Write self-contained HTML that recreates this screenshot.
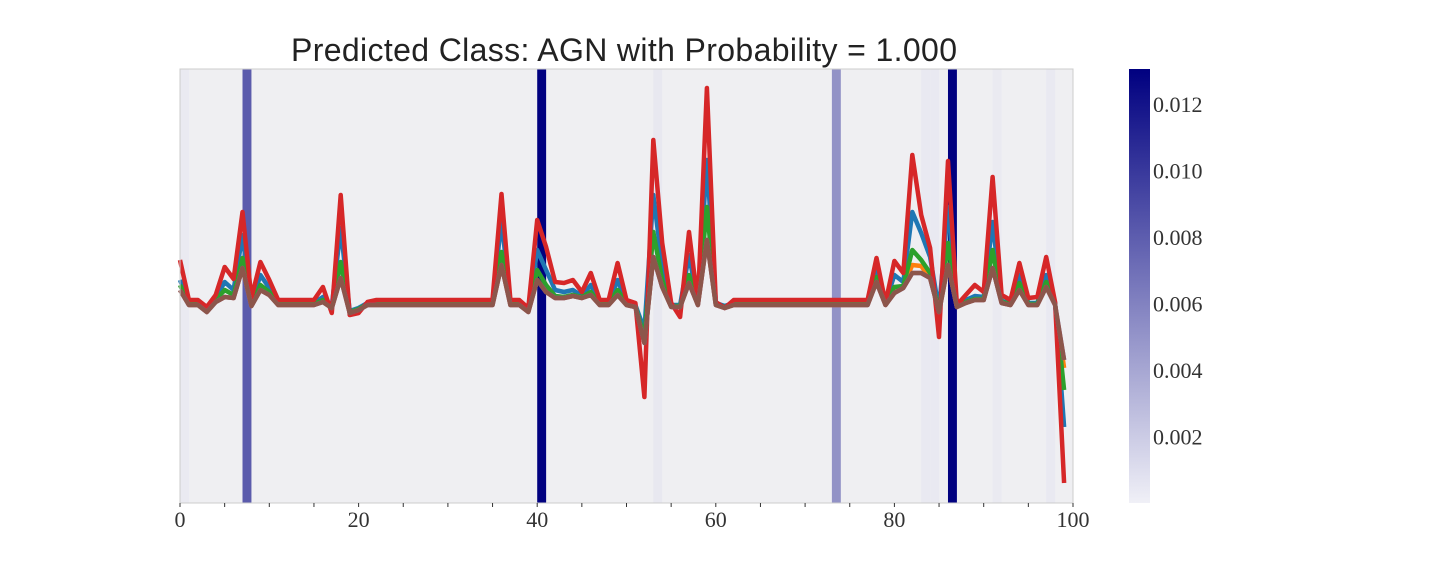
<!DOCTYPE html>
<html><head><meta charset="utf-8"><style>
html,body{margin:0;padding:0;background:#fff;}
svg text{font-family:"Liberation Serif",serif;}
</style></head><body>
<svg id="chart" width="1440" height="576" xmlns="http://www.w3.org/2000/svg">
<defs><linearGradient id="cbg" x1="0" y1="1" x2="0" y2="0">
<stop offset="0" stop-color="#f0f0f7"/><stop offset="1" stop-color="#000080"/></linearGradient></defs>
<text x="624" y="61" text-anchor="middle" textLength="666" style="font-family:'Liberation Sans',sans-serif;font-size:32px" fill="#222">Predicted Class: AGN with Probability = 1.000</text>
<rect x="180" y="69" width="893" height="434" fill="#efeff2"/>
<g id="bands"></g>
<g id="lines"></g>
<rect x="180" y="69" width="893" height="434" fill="none" stroke="#ccc" stroke-width="1"/>
<g id="xaxis"></g>
<rect x="1129" y="69" width="21" height="434" fill="url(#cbg)"/>
<g id="cbar"></g>
</svg>
<script>
const bandIdx=[7,40,73,86,53,83,84,91,97,0];
const bandVal=[0.0080,0.0130,0.0050,0.0130,0.0002,0.00015,0.00015,0.0001,0.00015,0.0001];
const red=[260,300,300,307,295,267,279,212,298,262,280,300,300,300,300,300,287,313,195,315,313,302,300,300,300,300,300,300,300,300,300,300,300,300,300,300,194,300,300,308,220,247,282,283,280,292,273,300,300,263,300,303,397,140,243,303,317,232,303,88,302,308,300,300,300,300,300,300,300,300,300,300,300,300,300,300,300,300,258,303,261,273,155,215,248,337,161,305,295,285,292,177,295,300,263,298,297,257,302,483];
const blue=[280,303,303,310,298,282,290,235,304,275,288,303,303,303,303,303,297,306,228,311,308,303,303,303,303,303,303,303,303,303,303,303,303,303,303,303,220,303,303,310,250,270,290,292,290,296,285,303,303,280,303,305,330,195,265,305,305,255,303,160,303,306,303,303,303,303,303,303,303,303,303,303,303,303,303,303,303,303,270,303,275,282,212,233,257,310,207,305,300,296,297,222,301,303,275,303,303,275,303,427];
const green=[285,304,304,311,300,290,295,258,305,285,292,304,304,304,304,304,300,307,262,312,309,304,304,304,304,304,304,304,304,304,304,304,304,304,304,304,252,304,304,311,270,285,296,297,295,297,292,304,304,290,304,306,338,232,280,306,306,275,304,207,304,307,304,304,304,304,304,304,304,304,304,304,304,304,304,304,304,304,277,304,287,286,250,260,273,311,243,306,302,299,299,250,302,304,283,304,304,282,304,390];
const orange=[290,305,305,312,302,297,298,268,306,290,295,305,305,305,305,305,302,308,278,313,310,305,305,305,305,305,305,305,305,305,305,305,305,305,305,305,265,305,305,312,280,292,298,298,296,298,295,305,305,295,305,307,343,257,287,307,307,283,305,240,305,308,305,305,305,305,305,305,305,305,305,305,305,305,305,305,305,305,282,305,293,286,265,266,278,312,265,307,303,300,300,268,303,305,290,305,305,287,305,368];
const brown=[290,305,305,312,302,297,298,268,306,290,295,305,305,305,305,305,302,308,278,313,310,305,305,305,305,305,305,305,305,305,305,305,305,305,305,305,265,305,305,312,280,292,298,298,296,298,295,305,305,295,305,307,343,257,287,307,307,283,305,240,305,308,305,305,305,305,305,305,305,305,305,305,305,305,305,305,305,305,282,305,293,288,273,273,278,312,265,307,303,300,300,268,303,305,290,305,305,287,305,360];
const xTicks=[0,20,40,60,80,100];
const cbTicks=[0.002,0.004,0.006,0.008,0.010,0.012];
const cbLabels=["0.002","0.004","0.006","0.008","0.010","0.012"];

const NS="http://www.w3.org/2000/svg";
const X0=180,X1=1073,CBMAX=0.01305;
const xs=v=>X0+(v/100)*(X1-X0);
const ys=v=>69+(v-69)*1;
const cby=v=>503-(v/CBMAX)*434;
function cmap(v){const t=Math.min(1,v/CBMAX);const r=Math.round(236*(1-t)),g=Math.round(236*(1-t)),b=Math.round(242-(242-128)*t);return `rgb(${r},${g},${b})`;}
function mk(tag,attrs,parent){const e=document.createElementNS(NS,tag);for(const k in attrs)e.setAttribute(k,attrs[k]);parent.appendChild(e);return e;}

const bands=document.getElementById('bands');
bandIdx.forEach((idx,i)=>{
  const r=mk('rect',{x:xs(idx),y:69,width:xs(idx+1)-xs(idx),height:434,fill:cmap(bandVal[i])},bands);
  
  
});

const lines=document.getElementById('lines');
const series=[["blue",blue,"#1f77b4"],["orange",orange,"#ff7f0e"],["green",green,"#2ca02c"],["red",red,"#d62728"],["purple",brown,"#9467bd"],["brown",brown,"#8c564b"]];
series.forEach(([nm,arr,col])=>{
  const d=arr.map((v,i)=>(i?'L':'M')+xs(i).toFixed(1)+','+ys(v).toFixed(1)).join(' ');
  const p=mk('path',{d:d,fill:'none',stroke:col,'stroke-width':4.5,'stroke-linejoin':'round'},lines);
  
  
});

const xa=document.getElementById('xaxis');
for(let v=0;v<=100;v+=5){
  const t=mk('line',{x1:xs(v),x2:xs(v),y1:503,y2:507,stroke:'#333','stroke-width':1},xa);
  
  
}
xTicks.forEach(v=>{
  const t=mk('text',{x:xs(v),y:527,'text-anchor':'middle','font-size':22,fill:'#333'},xa);
  t.textContent=v;
  
  
});
const cb=document.getElementById('cbar');
cbTicks.forEach((v,i)=>{
  const t=mk('text',{x:1153,y:cby(v)+8,'font-size':22,fill:'#333'},cb);
  t.textContent=cbLabels[i];
  
  
});
</script>
</body></html>
